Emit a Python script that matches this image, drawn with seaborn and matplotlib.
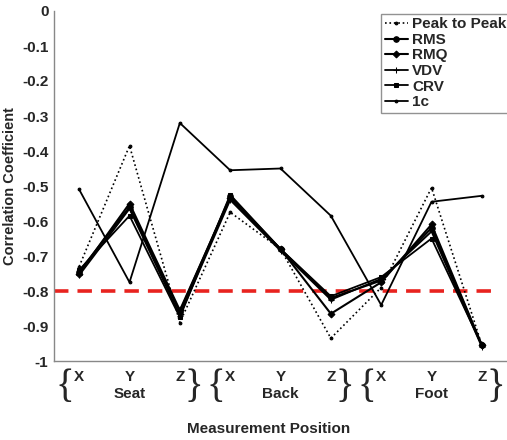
import matplotlib
matplotlib.use("Agg")
import matplotlib.pyplot as plt
import seaborn as sns
import pandas as pd
import numpy as np

sns.set_style("white")
plt.rcParams['font.family'] = ['Liberation Sans', 'DejaVu Sans']
plt.rcParams['font.weight'] = 'bold'

positions = ["Seat X", "Seat Y", "Seat Z", "Back X", "Back Y", "Back Z", "Foot X", "Foot Y", "Foot Z"]
axis_labels = ["X", "Y", "Z", "X", "Y", "Z", "X", "Y", "Z"]
groups = ["Seat", "Back", "Foot"]

peak_to_peak = [-0.73, -0.385, -0.89, -0.575, -0.68, -0.935, -0.79, -0.505, -0.955]
rms = [-0.745, -0.56, -0.86, -0.53, -0.68, -0.82, -0.77, -0.62, -0.955]
rmq = [-0.75, -0.55, -0.855, -0.535, -0.68, -0.865, -0.775, -0.61, -0.955]
vdv = [-0.755, -0.565, -0.87, -0.54, -0.685, -0.825, -0.765, -0.63, -0.96]
crv = [-0.74, -0.585, -0.875, -0.525, -0.68, -0.815, -0.76, -0.65, -0.955]
one_c = [-0.51, -0.775, -0.32, -0.455, -0.45, -0.585, -0.84, -0.545, -0.528]
threshold = -0.8

series = {
    "Peak to Peak": peak_to_peak,
    "RMS": rms,
    "RMQ": rmq,
    "VDV": vdv,
    "CRV": crv,
    "1c": one_c,
}
styles = {
    "Peak to Peak": dict(linestyle=":", marker=".", markersize=4, linewidth=1.2),
    "RMS": dict(linestyle="-", marker="o", markersize=4, linewidth=1.5),
    "RMQ": dict(linestyle="-", marker="D", markersize=3.5, linewidth=1.5),
    "VDV": dict(linestyle="-", marker="+", markersize=4, linewidth=1.3),
    "CRV": dict(linestyle="-", marker="s", markersize=3.5, linewidth=1.3),
    "1c": dict(linestyle="-", marker=".", markersize=4, linewidth=1.3),
}

x = np.arange(1, len(positions) + 1)

fig = plt.figure(figsize=(5.07, 4.4), dpi=100)
ax = fig.add_axes([54 / 507, 1 - 361 / 440, (507 - 54) / 507 + 0.01, 350 / 440])

for name, vals in series.items():
    df = pd.DataFrame({"pos": x, "val": vals})
    st = styles[name]
    sns.lineplot(data=df, x="pos", y="val", ax=ax, color="black", label=name,
                 linestyle=st["linestyle"], linewidth=st["linewidth"],
                 marker=st["marker"], markersize=st["markersize"],
                 markeredgecolor="black", markerfacecolor="black")

ax.axhline(threshold, xmin=0, xmax=0.96, color="#e8231f", linestyle=(0, (4, 2.5)), linewidth=2.6, zorder=0)

ax.set_xlim(0.5, 9.6)
ax.set_ylim(-1, 0)
ax.set_yticks(np.round(np.arange(-1, 0.01, 0.1), 1))
ax.set_yticklabels(["-1", "-0.9", "-0.8", "-0.7", "-0.6", "-0.5", "-0.4", "-0.3", "-0.2", "-0.1", "0"],
                   fontsize=11, fontweight="bold")
ax.set_xticks(x)
ax.set_xticklabels([])
ax.tick_params(axis="both", direction="in", length=3, color="#555555")
ax.tick_params(axis="y", pad=4)
for s in ["top", "right"]:
    ax.spines[s].set_visible(False)
for s in ["left", "bottom"]:
    ax.spines[s].set_color("#888888")
    ax.spines[s].set_linewidth(1.0)

for xi, lab in zip(x, axis_labels):
    ax.text(xi, -1.025, lab, ha="center", va="top", fontsize=11, fontweight="bold", clip_on=False)
for gi, g in enumerate(groups):
    c = 2 + gi * 3
    ax.text(c, -1.075, g, ha="center", va="top", fontsize=11, fontweight="bold", clip_on=False)
    ax.text(c - 1.29, -1.077, "{", ha="center", va="center", fontsize=28, fontweight="normal",
            family="Liberation Serif", clip_on=False)
    ax.text(c + 1.27, -1.077, "}", ha="center", va="center", fontsize=28, fontweight="normal",
            family="Liberation Serif", clip_on=False)

ax.set_xlabel("")
ax.set_ylabel("Correlation Coefficient", fontsize=10.5, fontweight="bold", labelpad=4)
fig.text(0.5 + 0.03, 4 / 440, "Measurement Position", ha="center", va="bottom",
         fontsize=11, fontweight="bold")

leg = ax.legend(loc="upper right", bbox_to_anchor=(1.0, 0.997), fontsize=11, frameon=True,
                handlelength=1.5, handletextpad=0.3, borderpad=0.25, labelspacing=0.1,
                borderaxespad=0.1, fancybox=False, edgecolor="#777777")
leg.get_frame().set_linewidth(1.0)
for t in leg.get_texts():
    t.set_fontweight("bold")

fig.savefig("out.png", dpi=100)
